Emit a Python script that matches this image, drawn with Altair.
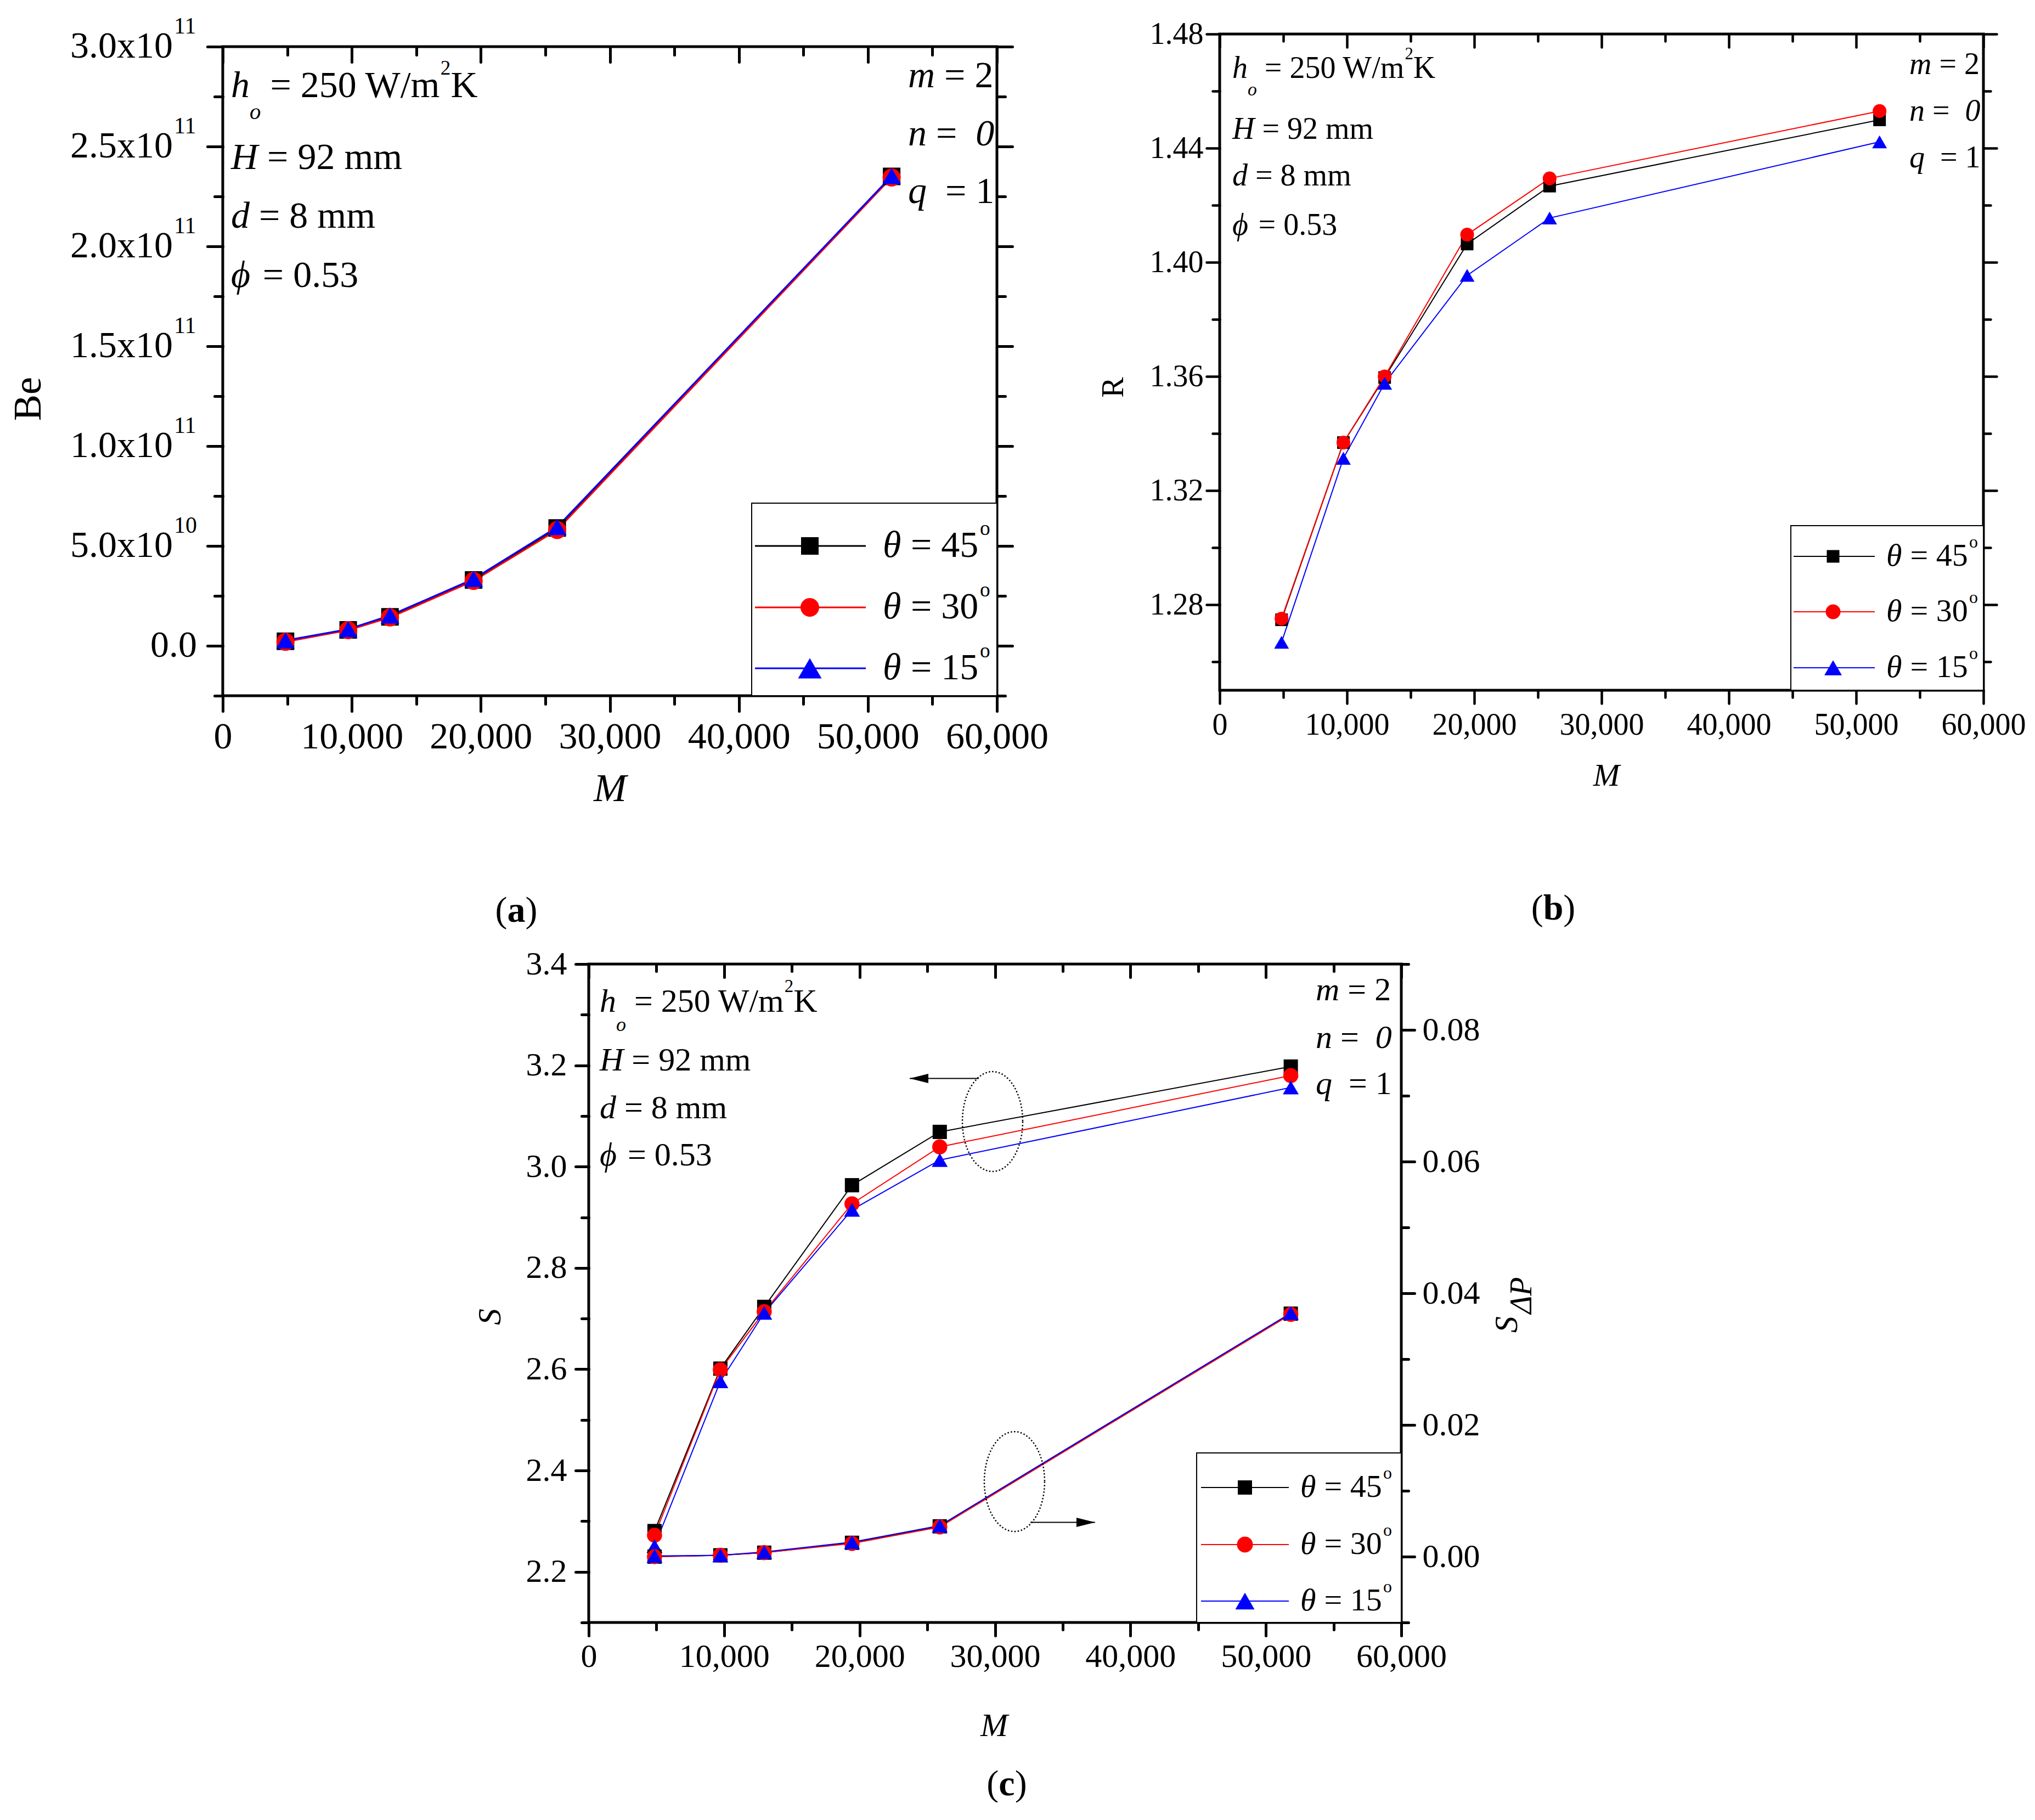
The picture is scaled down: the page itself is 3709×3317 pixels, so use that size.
import altair as alt
import pandas as pd

FONT = "Liberation Serif"

# ---------------- data ----------------
M = [4860, 9720, 12960, 19440, 25920, 51840]
SERIES = ["45", "30", "15"]
COLORS = ["#000000", "#ff0000", "#0000ff"]
SHAPES = ["square", "circle", "triangle-up"]

BE_45 = [2.3e9, 8.0e9, 1.45e10, 3.30e10, 5.90e10, 2.350e11]
BE_30 = [2.0e9, 7.8e9, 1.42e10, 3.25e10, 5.80e10, 2.345e11]
BE_15 = [2.7e9, 8.3e9, 1.52e10, 3.35e10, 5.95e10, 2.352e11]

R_45 = [1.2747, 1.3368, 1.3596, 1.4064, 1.4267, 1.4499]
R_30 = [1.2751, 1.3368, 1.3600, 1.4097, 1.4294, 1.4530]
R_15 = [1.2668, 1.3313, 1.3576, 1.3954, 1.4155, 1.4422]

S_45 = [2.2805, 2.6012, 2.7231, 2.9633, 3.0686, 3.1976]
S_30 = [2.2722, 2.5988, 2.7136, 2.9266, 3.0390, 3.1799]
S_15 = [2.2509, 2.5763, 2.7112, 2.9148, 3.0130, 3.1562]

SDP_45 = [0.0000, 0.0002, 0.0006, 0.0021, 0.0046, 0.0369]
SDP_30 = [0.0000, 0.0002, 0.0006, 0.0020, 0.0045, 0.0368]
SDP_15 = [0.0001, 0.0002, 0.0007, 0.0022, 0.0047, 0.0370]

# tick values and labels
X_MAJOR = [0, 10000, 20000, 30000, 40000, 50000, 60000]
X_MINOR = [5000, 15000, 25000, 35000, 45000, 55000]
BE_MAJOR = [0, 5e10, 1e11, 1.5e11, 2e11, 2.5e11, 3e11]
BE_TICK_TEXT = ["0.0", "5.0x10", "1.0x10", "1.5x10", "2.0x10", "2.5x10", "3.0x10"]
BE_TICK_EXP = ["", "10", "11", "11", "11", "11", "11"]
BE_MINOR = [-2.5e10, 2.5e10, 7.5e10, 1.25e11, 1.75e11, 2.25e11, 2.75e11]
R_MAJOR = [1.28, 1.32, 1.36, 1.40, 1.44, 1.48]
R_MINOR = [1.26, 1.30, 1.34, 1.38, 1.42, 1.46]
S_MAJOR = [2.2, 2.4, 2.6, 2.8, 3.0, 3.2, 3.4]
S_MINOR = [2.1, 2.3, 2.5, 2.7, 2.9, 3.1, 3.3]
SDP_MAJOR = [0.0, 0.02, 0.04, 0.06, 0.08]
SDP_MINOR = [-0.01, 0.01, 0.03, 0.05, 0.07, 0.09]

# annotation anchors of panel (c), in data units
ELL_TOP = (29818, 3.089)
ELL_BOT = (31437, 0.0114)
ARROW_TOP = (28800, 23700, 3.174)   # tail M, tip M, S
ARROW_BOT = (32610, 37390, 0.0052)  # tail M, tip M, S_dP

# ---------------- layout (page pixels) ----------------
OX, OY = 406, 62
FA = (406, 85, 1817, 1268)
FB = (2223, 62, 3615, 1258)
FC = (1073, 1757, 2554, 2957)
VW = FB[2] - OX
VH = FC[3] - OY


def vx(x):
    return x - OX


def vy(y):
    return y - OY


ONE = pd.DataFrame({"k": [0]})
COLOR_SCALE = alt.Scale(domain=SERIES, range=COLORS)
SHAPE_SCALE = alt.Scale(domain=SERIES, range=SHAPES)


def long_df(*cols):
    rows = []
    for s, vals in zip(SERIES, cols):
        for m, v in zip(M, vals):
            rows.append({"M": m, "v": v, "s": s})
    return pd.DataFrame(rows)


def xscale(F):
    return alt.Scale(domain=[0, 60000], range=[vx(F[0]), vx(F[2])], nice=False, zero=False)


def yscale(F, lo, hi):
    return alt.Scale(domain=[lo, hi], range=[vy(F[3]), vy(F[1])], nice=False, zero=False)


def ax(orient, values, F, size, width, inward=False, fs=None, pad=0, fmt=None):
    if orient == "bottom":
        off = vy(F[1] if inward else F[3]) - VH
    elif orient == "left":
        off = -vx(F[0])
    else:
        off = vx(F[2]) - VW
    kw = dict(orient=orient, values=values, offset=off, ticks=True, tickSize=size,
              tickWidth=width, tickColor="black", tickCap="round", domain=False,
              grid=False, title=None, labels=fs is not None)
    if fs is not None:
        kw.update(labelFont=FONT, labelFontSize=fs, labelColor="black", labelPadding=pad,
                  labelFlush=False, labelOverlap=False, labelLimit=800)
        if fmt:
            kw["format"] = fmt
    return alt.Axis(**kw)


def series_layers(df, xs, ys, xax, yax, sizes, lw):
    line = alt.Chart(df).mark_line(strokeWidth=lw).encode(
        x=alt.X("M:Q", scale=xs, axis=xax),
        y=alt.Y("v:Q", scale=ys, axis=yax),
        color=alt.Color("s:N", scale=COLOR_SCALE, legend=None),
    )
    pts = alt.Chart(df).mark_point(filled=True, opacity=1).encode(
        x=alt.X("M:Q", scale=xs, axis=None),
        y=alt.Y("v:Q", scale=ys, axis=None),
        color=alt.Color("s:N", scale=COLOR_SCALE, legend=None),
        shape=alt.Shape("s:N", scale=SHAPE_SCALE, legend=None),
        size=alt.Size("s:N", scale=alt.Scale(domain=SERIES, range=sizes), legend=None),
    )
    return line, pts


def axis_layer(df, xs, ys, xax, yax):
    return alt.Chart(df).mark_point(opacity=0).encode(
        x=alt.X("M:Q", scale=xs, axis=xax),
        y=alt.Y("v:Q", scale=ys, axis=yax),
    ).transform_filter("false")


# ---------------- text helpers ----------------
REG_W = {**{d: 0.5 for d in "0123456789"}, " ": 0.25, "=": 0.564, ".": 0.25, ",": 0.25,
         "W": 0.944, "/": 0.278, "m": 0.778, "K": 0.722}
IT_W = {"h": 0.5, "H": 0.722, "d": 0.5, "m": 0.722, "n": 0.5, "q": 0.5, "0": 0.5,
        "\u03b8": 0.5, "\u03d5": 0.6, "o": 0.5, " ": 0.25}


def width(s, italic, size):
    tab = IT_W if italic else REG_W
    return sum(tab.get(c, 0.5) for c in s) * size


def txt(x, y, s, size, italic=False, bold=False, align="left", angle=None):
    kw = dict(text=s, font=FONT, fontSize=size, align=align, baseline="middle", color="black")
    if italic:
        kw["fontStyle"] = "italic"
    if bold:
        kw["fontWeight"] = "bold"
    if angle is not None:
        kw["angle"] = angle
    return alt.Chart(ONE).mark_text(**kw).encode(x=alt.value(vx(x)), y=alt.value(vy(y)))


def rich(x, y, parts, fs):
    """Place text segments one after another; spaces are advanced, not drawn."""
    out = []
    for p in parts:
        text, it = p[0], p[1]
        rel = p[2] if len(p) > 2 else 1.0
        dy = p[3] if len(p) > 3 else 0.0
        size = fs * rel
        lead = len(text) - len(text.lstrip(" "))
        body = text.strip(" ")
        if body:
            out.append(txt(x + lead * 0.25 * size, y + dy * fs, body, size, italic=it))
        x += width(text, it, size)
    return out, x


def rect(x0, y0, x1, y1, sw, fill="white", fop=1):
    return alt.Chart(ONE).mark_rect(fill=fill, fillOpacity=fop, stroke="black", strokeWidth=sw).encode(
        x=alt.value(vx(x0)), x2=alt.value(vx(x1)), y=alt.value(vy(y0)), y2=alt.value(vy(y1)))


def rule(x0, x1, y, color, lw):
    return alt.Chart(ONE).mark_rule(color=color, strokeWidth=lw).encode(
        x=alt.value(vx(x0)), x2=alt.value(vx(x1)), y=alt.value(vy(y)))


def marker(x, y, shape, size, color):
    return alt.Chart(ONE).mark_point(shape=shape, size=size, filled=True, color=color, opacity=1).encode(
        x=alt.value(vx(x)), y=alt.value(vy(y)))


def legend(box, ys, xl0, xl1, xm, xt, fs, sizes, lw):
    out = [rect(*box, sw=2)]
    for i, s in enumerate(SERIES):
        y = ys[i]
        out.append(rule(xl0, xl1, y, COLORS[i], lw))
        out.append(marker(xm, y, SHAPES[i], sizes[i], COLORS[i]))
        segs, xe = rich(xt, y, [("\u03b8", True), (" = " + s, False)], fs)
        out += segs
        out.append(txt(xe + 0.04 * fs, y - 0.45 * fs, "o", 0.55 * fs))
    return out


def params(xl, yl, xr, yr, fs):
    out = []
    left = [
        [("h", True), ("o", True, 0.6, 0.7), (" = 250 W/m", False), ("2", False, 0.55, -0.47),
         ("K", False)],
        [("H", True), (" = 92 mm", False)],
        [("d", True), (" = 8 mm", False)],
        [("\u03d5", True), (" = 0.53", False)],
    ]
    right = [
        [("m", True), (" = 2", False)],
        [("n", True), (" =  ", False), ("0", True)],
        [("q", True), ("  = 1", False)],
    ]
    for parts, y in zip(left, yl):
        out += rich(xl, y, parts, fs)[0]
    for parts, y in zip(right, yr):
        out += rich(xr, y, parts, fs)[0]
    return out


def panel_label(cx, cy, letter, size=66):
    w = {"a": 0.5, "b": 0.556, "c": 0.444}[letter] * size
    return [txt(cx - w / 2, cy, "(", size, align="right"),
            txt(cx, cy, letter, size, bold=True, align="center"),
            txt(cx + w / 2, cy, ")", size, align="left")]


# ---------------- panel (a) ----------------
dfA = long_df(BE_45, BE_30, BE_15)
xsA = xscale(FA)
ysA = yscale(FA, -2.5e10, 3e11)
lineA, ptsA = series_layers(
    dfA, xsA, ysA,
    ax("bottom", X_MAJOR, FA, 28, 5, fs=68, pad=13, fmt=",d"),
    ax("left", BE_MAJOR, FA, 28, 5),
    [1024, 1156, 1849], 3)

# y tick labels of (a): mantissa + raised exponent, placed through the y scale
dfBL = pd.DataFrame({"v": BE_MAJOR, "t": BE_TICK_TEXT, "e": BE_TICK_EXP})
BE_LAB_RIGHT = 359      # page x of the right edge of the labels
BE_EXP_FS = 42
BE_MANT_RIGHT = BE_LAB_RIGHT - BE_EXP_FS - 2
labMant = alt.Chart(dfBL).mark_text(font=FONT, fontSize=68, align="right", baseline="middle",
                                    color="black").encode(
    x=alt.value(vx(BE_MANT_RIGHT)), y=alt.Y("v:Q", scale=ysA, axis=None), text="t:N"
).transform_filter("datum.e != ''")
labZero = alt.Chart(dfBL).mark_text(font=FONT, fontSize=68, align="right", baseline="middle",
                                    color="black").encode(
    x=alt.value(vx(BE_LAB_RIGHT)), y=alt.Y("v:Q", scale=ysA, axis=None), text="t:N"
).transform_filter("datum.e == ''")
labExp = alt.Chart(dfBL).mark_text(font=FONT, fontSize=BE_EXP_FS, align="left", baseline="middle",
                                   color="black", dy=-37).encode(
    x=alt.value(vx(BE_MANT_RIGHT + 2)), y=alt.Y("v:Q", scale=ysA, axis=None), text="e:N"
).transform_filter("datum.e != ''")

A = alt.layer(
    lineA, ptsA, labMant, labZero, labExp,
    axis_layer(dfA, xsA, ysA, ax("bottom", X_MINOR, FA, 15, 5), ax("left", BE_MINOR, FA, 15, 5)),
    axis_layer(dfA, xsA, ysA, ax("bottom", X_MAJOR, FA, 28, 5, inward=True), ax("right", BE_MAJOR, FA, 28, 5)),
    axis_layer(dfA, xsA, ysA, ax("bottom", X_MINOR, FA, 15, 5, inward=True), ax("right", BE_MINOR, FA, 15, 5)),
).resolve_axis(x="independent", y="independent")

# ---------------- panel (b) ----------------
dfB = long_df(R_45, R_30, R_15)
xsB = xscale(FB)
ysB = yscale(FB, 1.25, 1.48)
lineB, ptsB = series_layers(
    dfB, xsB, ysB,
    ax("bottom", X_MAJOR, FB, 24, 4.5, fs=56, pad=12, fmt=",d"),
    ax("left", R_MAJOR, FB, 24, 4.5, fs=56, pad=6, fmt=".2f"),
    [529, 729, 1024], 2)
B = alt.layer(
    lineB, ptsB,
    axis_layer(dfB, xsB, ysB, ax("bottom", X_MINOR, FB, 13, 4.5), ax("left", R_MINOR, FB, 13, 4.5)),
    axis_layer(dfB, xsB, ysB, ax("bottom", X_MAJOR, FB, 24, 4.5, inward=True), ax("right", R_MAJOR, FB, 24, 4.5)),
    axis_layer(dfB, xsB, ysB, ax("bottom", X_MINOR, FB, 13, 4.5, inward=True), ax("right", R_MINOR, FB, 13, 4.5)),
).resolve_axis(x="independent", y="independent")

# ---------------- panel (c) ----------------
ELL = "M0.604,0 C0.604,0.5523 0.3336,1 0,1 C-0.3336,1 -0.604,0.5523 -0.604,0 " \
      "C-0.604,-0.5523 -0.3336,-1 0,-1 C0.3336,-1 0.604,-0.5523 0.604,0 Z"
HEAD_L = "M0,0 L2,-0.5 L2,0.5 Z"
HEAD_R = "M0,0 L-2,-0.5 L-2,0.5 Z"

dfS = long_df(S_45, S_30, S_15)
dfP = long_df(SDP_45, SDP_30, SDP_15)
xsC = xscale(FC)
ysS = yscale(FC, 2.1, 3.4)
ysP = yscale(FC, -0.01, 0.09)
C_SIZES = [676, 841, 1225]
lineS, ptsS = series_layers(
    dfS, xsC, ysS,
    ax("bottom", X_MAJOR, FC, 24, 5, fs=60, pad=9, fmt=",d"),
    ax("left", S_MAJOR, FC, 24, 5, fs=60, pad=16, fmt=".1f"),
    C_SIZES, 2)
lineP, ptsP = series_layers(
    dfP, xsC, ysP,
    ax("bottom", X_MAJOR, FC, 24, 5, inward=True),
    ax("right", SDP_MAJOR, FC, 24, 5, fs=60, pad=14, fmt=".2f"),
    C_SIZES, 2)


def ellipse(xv, yv, ys):
    return alt.Chart(ONE).mark_point(shape=ELL, size=33124, filled=False, color="black",
                                     strokeWidth=2.5, strokeDash=[2.5, 3.5], opacity=1).encode(
        x=alt.XDatum(xv, scale=xsC, axis=None), y=alt.YDatum(yv, scale=ys, axis=None))


def arrow(tail, tip, yv, ys, head):
    r = alt.Chart(ONE).mark_rule(color="black", strokeWidth=2).encode(
        x=alt.XDatum(tail, scale=xsC, axis=None), x2=alt.X2Datum(tip),
        y=alt.YDatum(yv, scale=ys, axis=None))
    h = alt.Chart(ONE).mark_point(shape=head, size=1156, filled=True, color="black", opacity=1).encode(
        x=alt.XDatum(tip, scale=xsC, axis=None), y=alt.YDatum(yv, scale=ys, axis=None))
    return [r, h]


C = alt.layer(
    lineS, ptsS,
    axis_layer(dfS, xsC, ysS, ax("bottom", X_MINOR, FC, 13, 5), ax("left", S_MINOR, FC, 13, 5)),
    lineP, ptsP,
    axis_layer(dfP, xsC, ysP, ax("bottom", X_MINOR, FC, 13, 5, inward=True), ax("right", SDP_MINOR, FC, 13, 5)),
    ellipse(*ELL_TOP, ysS),
    *arrow(ARROW_TOP[0], ARROW_TOP[1], ARROW_TOP[2], ysS, HEAD_L),
    ellipse(*ELL_BOT, ysP),
    *arrow(ARROW_BOT[0], ARROW_BOT[1], ARROW_BOT[2], ysP, HEAD_R),
).resolve_scale(y="independent").resolve_axis(x="independent", y="independent")

# ---------------- decorations ----------------
deco = []
for F in (FA, FB, FC):
    deco.append(rect(F[0], F[1], F[2], F[3], sw=5, fop=0))

deco += legend((1370, 917, 1817, 1268), [995, 1107, 1218], 1376, 1578, 1476, 1609, 68,
               [1024, 1156, 1849], 3)
deco += legend((3264, 958, 3615, 1258), [1014, 1115, 1217], 3269, 3417, 3341, 3438, 58,
               [529, 729, 1024], 2)
deco += legend((2181, 2648, 2554, 2957), [2711, 2815, 2918], 2189, 2349, 2269, 2370, 58,
               C_SIZES, 2)

deco += params(421, [157, 288, 395, 503], 1655, [139, 245, 350], 68)
deco += params(2246, [125, 236, 321, 411], 3480, [118, 203, 288], 56)
deco += params(1093, [1826, 1933, 2020, 2106], 2398, [1805, 1892, 1976], 60)

# axis titles
deco.append(txt(52, 727, "Be", 72, align="center", angle=270))
deco.append(txt(1112, 1438, "M", 72, italic=True, align="center"))
deco.append(txt(2030, 706, "R", 56, align="center", angle=270))
deco.append(txt(2928, 1415, "M", 58, italic=True, align="center"))
deco.append(txt(894, 2400, "S", 60, italic=True, align="center", angle=270))
deco.append(txt(1812, 3146, "M", 60, italic=True, align="center"))
deco.append(txt(2747, 2414, "S", 60, italic=True, align="center", angle=270))
deco.append(txt(2774, 2361, "\u0394P", 56, italic=True, align="center", angle=270))

# panel labels
deco += panel_label(941, 1660, "a")
deco += panel_label(2831, 1656, "b")
deco += panel_label(1835, 3252, "c")

# layout anchor (top-left extent of the drawing)
deco.append(alt.Chart(ONE).mark_point(shape="square", size=4, filled=True, color="white", opacity=1).encode(
    x=alt.value(-397), y=alt.value(-53)))

chart = alt.layer(A, B, C, *deco).resolve_scale(
    x="independent", y="independent", size="independent"
).properties(width=VW, height=VH, padding=0).configure_view(stroke="transparent")

chart.save("out.html", embed_options={"renderer": "svg", "actions": False})
